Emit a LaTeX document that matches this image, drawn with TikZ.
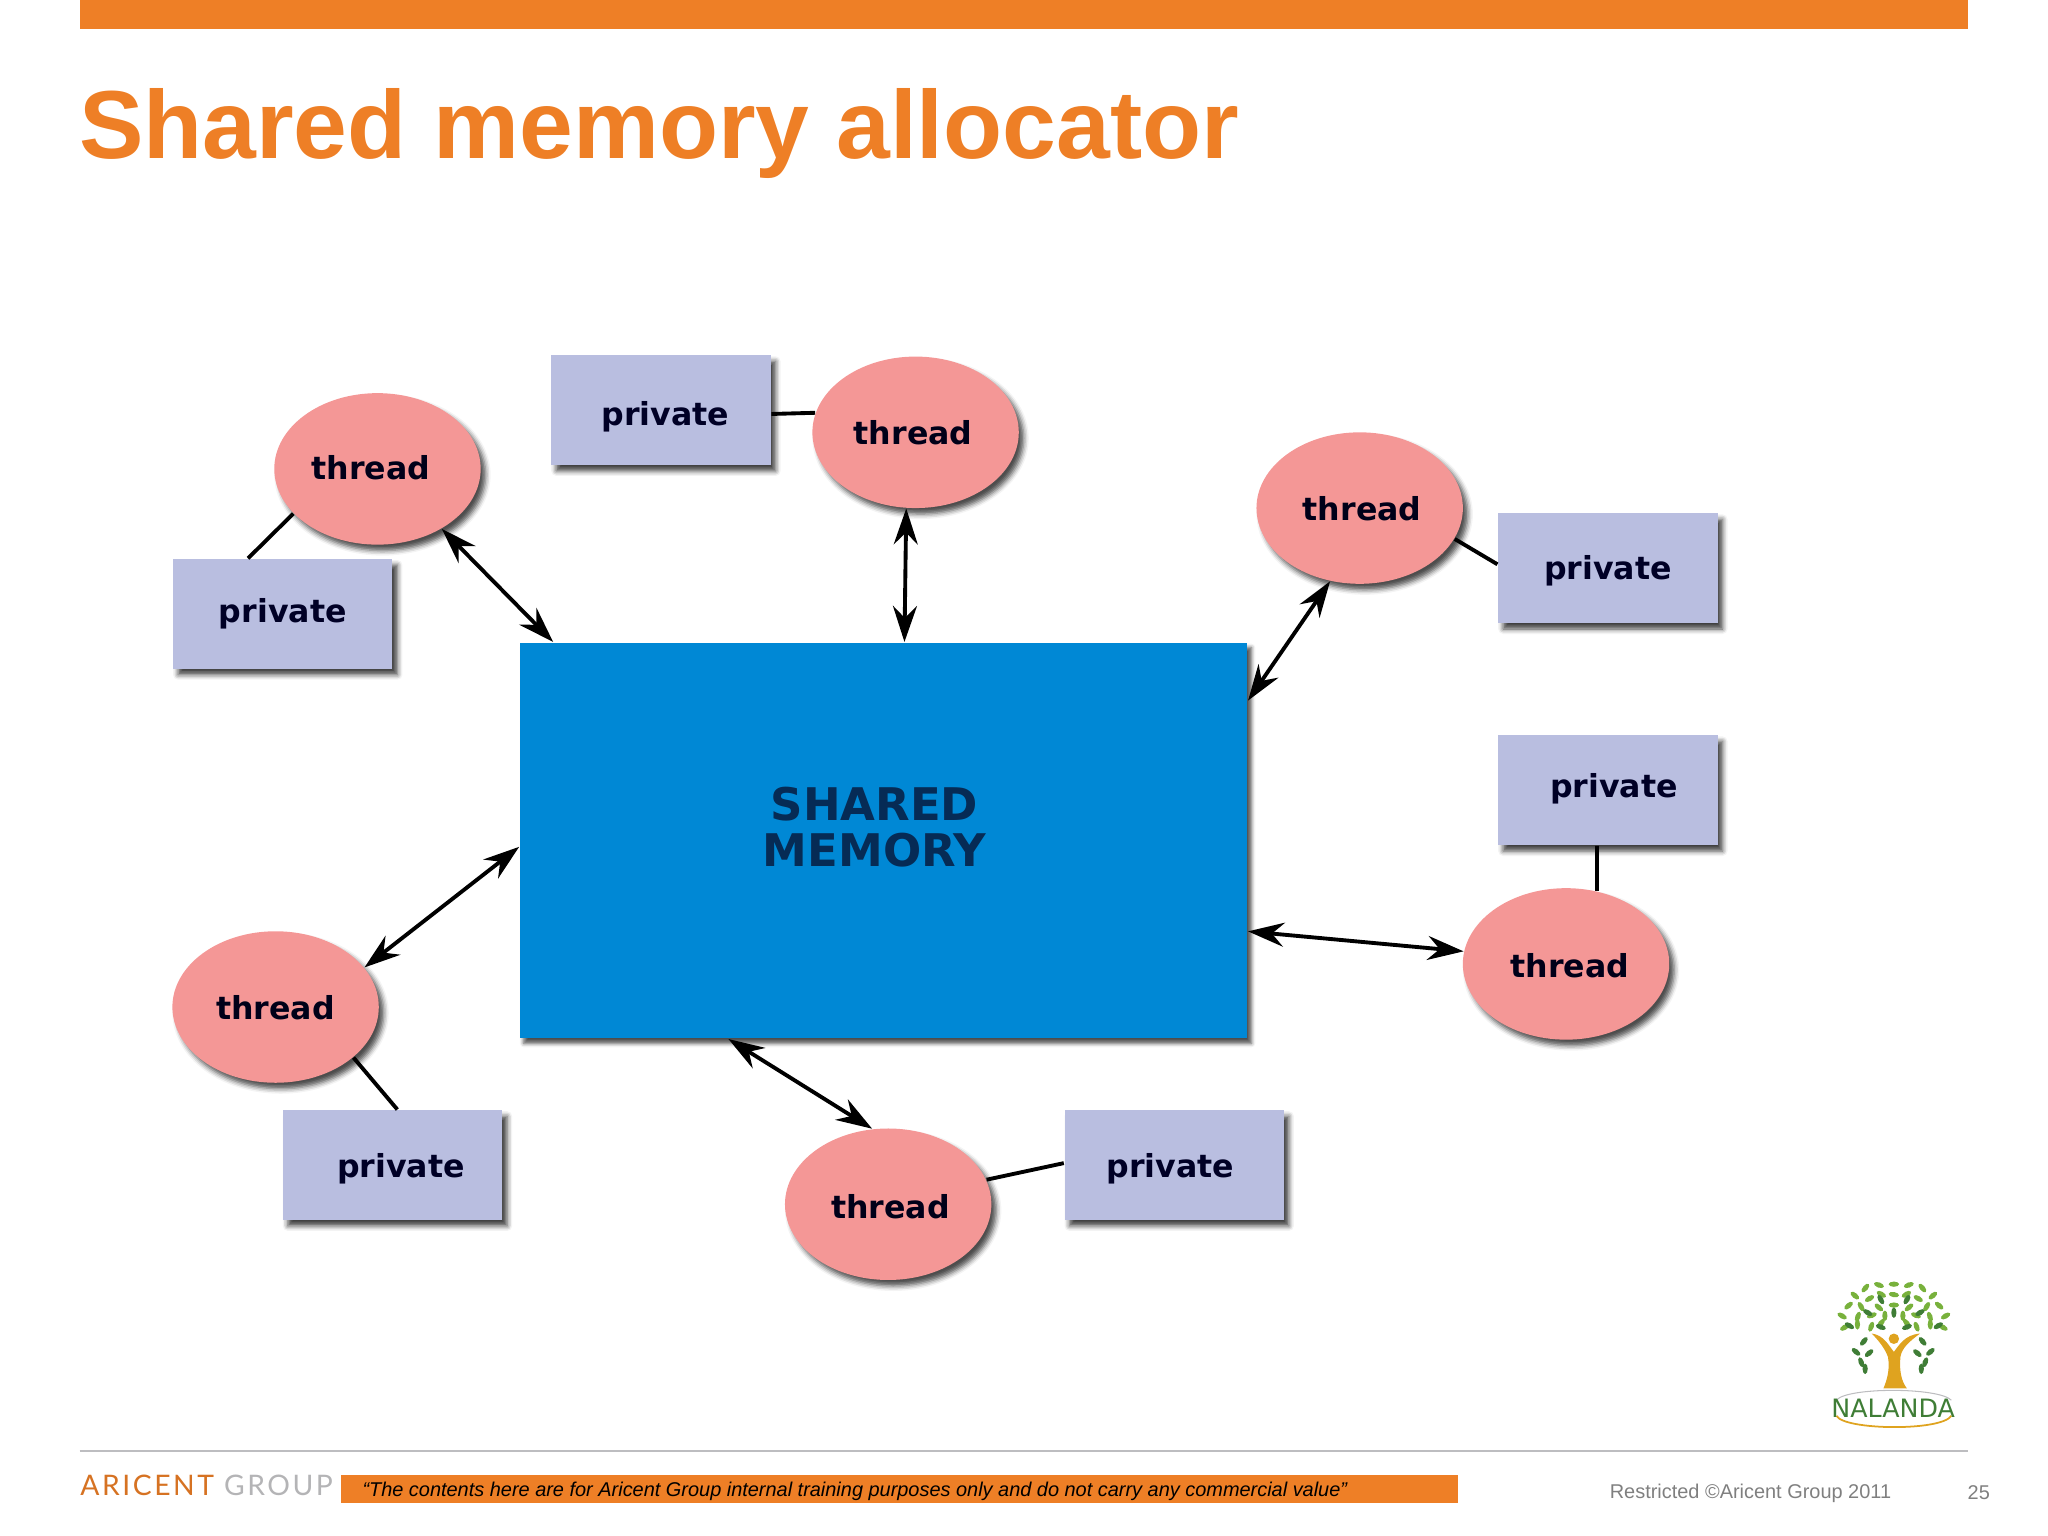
\documentclass[tikz,border=0pt]{standalone}
\usepackage{fontspec}
\setmainfont{Liberation Sans}
\newfontfamily\labelfont{DejaVu Sans}
\newfontfamily\logofont[LetterSpace=9]{Lato}
\usetikzlibrary{arrows.meta,shapes.geometric,shadows.blur}
\definecolor{barOrange}{HTML}{EE7F26}
\definecolor{threadPink}{HTML}{F49796}
\definecolor{privateBlue}{HTML}{B9BEE0}
\definecolor{memoryBlue}{HTML}{0088D5}
\definecolor{memoryText}{HTML}{062B55}
\definecolor{footGray}{HTML}{7F7F7F}
\definecolor{logoGray}{HTML}{B4B4B6}
\definecolor{ruleGray}{HTML}{BDBDC0}
\definecolor{leafGreen}{HTML}{78B13C}
\definecolor{leafDark}{HTML}{3F7D36}
\definecolor{trunkGold}{HTML}{DFA31F}
\newcommand{\nudged}[3]{\raisebox{#2}[\height][\depth]{\kern#1\relax #3\kern-#1\relax}}

\begin{document}
\begin{tikzpicture}[x=0.013061cm,y=-0.013061cm,%%
  threadStyle/.style={ellipse,fill=threadPink,minimum width=2.064cm,minimum height=1.515cm,inner sep=0pt,%%
    font=\labelfont\bfseries\fontsize{9}{11}\selectfont,text=black!90!blue,%%
    blur shadow={shadow xshift=0.05cm,shadow yshift=-0.06cm,shadow blur radius=0.05cm,shadow opacity=70}},%%
  privateStyle/.style={rectangle,fill=privateBlue,minimum width=2.194cm,minimum height=1.097cm,inner sep=0pt,%%
    font=\labelfont\bfseries\fontsize{9}{11}\selectfont,text=black!85!blue,%%
    blur shadow={shadow xshift=0.05cm,shadow yshift=-0.06cm,shadow blur radius=0.05cm,shadow opacity=75}},%%
  memoryStyle/.style={rectangle,fill=memoryBlue,minimum width=7.275cm,minimum height=3.957cm,inner sep=0pt,align=center,%%
    font=\labelfont\bfseries\fontsize{12.8}{13}\selectfont,text=memoryText,%%
    blur shadow={shadow xshift=0.04cm,shadow yshift=-0.05cm,shadow blur radius=0.04cm,shadow opacity=70}},%%
  arrowStyle/.style={{Stealth[length=0.36cm,width=0.24cm,inset=0.12cm]}-{Stealth[length=0.36cm,width=0.24cm,inset=0.12cm]},line width=1.1pt},%%
  lineStyle/.style={-,line width=1.1pt},%%
  footStyle/.style={anchor=west,inner sep=0pt,text=footGray,font=\fontsize{5.67}{7}\selectfont}%%
]
\useasboundingbox (0,0) rectangle (1568,1176);
%%
%% Draw the title bar and the title.
\fill[barOrange] (61,0) rectangle (1507,22);
\node[anchor=west,inner sep=0pt,text=barOrange,font=\bfseries\fontsize{27.5}{30}\selectfont] (title) at (60,102) {Shared memory allocator};
%%
%% Draw the shared block.
\node[memoryStyle] (memory) at (676.5,643.5) {SHARED\hspace*{5.2pt}\\MEMORY\hspace*{5.2pt}\rule[-7.6pt]{0pt}{0pt}};
%%
%% Draw the threads.
\node[threadStyle] (threadA) at (289,359) {\nudged{-1.9pt}{0.4pt}{thread}};
\node[threadStyle] (threadB) at (701,331) {\nudged{-0.7pt}{0pt}{thread}};
\node[threadStyle] (threadC) at (1041,389) {\nudged{0.7pt}{-0.3pt}{thread}};
\node[threadStyle] (threadD) at (1199,738) {\nudged{1.1pt}{-0.4pt}{thread}};
\node[threadStyle] (threadE) at (211,771) {\nudged{0pt}{-0.1pt}{thread}};
\node[threadStyle] (threadF) at (680,922) {\nudged{0.7pt}{-0.7pt}{thread}};
%%
%% Draw the private boxes.
\node[privateStyle] (privateA) at (216.5,470) {\nudged{0pt}{0pt}{private}};
\node[privateStyle] (privateB) at (506,314) {\nudged{1.3pt}{-1.9pt}{private}};
\node[privateStyle] (privateC) at (1231,435) {\nudged{0pt}{-0.7pt}{private}};
\node[privateStyle] (privateD) at (1231,605) {\nudged{1.7pt}{0.4pt}{private}};
\node[privateStyle] (privateE) at (300.5,892) {\nudged{2.4pt}{-1.1pt}{private}};
\node[privateStyle] (privateF) at (899,892) {\nudged{-1.1pt}{-1.1pt}{private}};
%%
%% Connect the threads to the shared block.
\draw[arrowStyle] (threadA.-43.9) -- (memory.149);
\draw[arrowStyle] (threadB.-97.7) -- (memory.84.4);
\draw[arrowStyle] (threadC.-112.5) -- (memory.21.4);
\draw[arrowStyle] (threadD.173) -- (memory.-14.9);
\draw[arrowStyle] (threadE.24.9) -- (memory.181.9);
\draw[arrowStyle] (threadF.102) -- (memory.-128);
%%
%% Connect the threads to their private boxes.
\draw[lineStyle] (threadA.208.4) -- (privateA.122.6);
\draw[lineStyle] (threadB.169.6) -- (privateB.-2.5);
\draw[lineStyle] (threadC.-18.4) -- (privateC.178);
\draw[lineStyle] (threadD.67.7) -- (privateD.-101.8);
\draw[lineStyle] (threadE.-33) -- (privateE.85.3);
\draw[lineStyle] (threadF.14.2) -- (privateF.179.3);
%%
%% Draw the tree of the logo.
\foreach \ang/\rad/\tilt in {-8/38/60,8/40/-60,24/38/50,40/39/-50,56/39/40,72/37/-70,90/36/90,108/37/70,124/39/-40,140/39/50,156/38/-50,172/40/60,188/38/-60,%%
  10/28/20,30/29/-30,50/29/60,70/28/-60,90/26/80,110/28/60,130/29/-60,150/29/30,170/28/-20,%%
  20/18/70,50/18/-50,90/16/90,130/18/50,160/18/-70,%%
  -5/28/0,185/28/0,-15/18/20,195/18/-20,-8/10/40,188/10/-40,40/9/0,140/9/0}{
  \pgfmathsetmacro{\leafx}{1450+\rad*cos(\ang)}
  \pgfmathsetmacro{\leafy}{1012-0.8*\rad*sin(\ang)}
  \fill[leafGreen,rotate around={\tilt:(\leafx,\leafy)}] (\leafx,\leafy) ellipse (2 and 4);
}
\foreach \leafx/\leafy/\tilt in {1421/1035/50,1427/1027/-40,1425/1043/20,1431/1036/-50,1428/1048/0,1478/1035/-50,1472/1027/40,1474/1043/-20,1468/1036/50,1471/1048/0,%%
  1440/995/30,1460/995/-30,1430/1005/60,1470/1005/-60,1450/1005/0,1416/1015/60,1484/1015/-60,1440/1016/70,1460/1016/-70}{
  \fill[leafDark,rotate around={\tilt:(\leafx,\leafy)}] (\leafx,\leafy) ellipse (2 and 4);
}
\fill[trunkGold] (1433,1021) .. controls (1442,1022) and (1446,1030) .. (1450,1035) .. controls (1454,1030) and (1458,1022) .. (1470,1021) .. controls (1462,1027) and (1456,1032) .. (1455,1039) .. controls (1454,1050) and (1456,1058) .. (1460,1063) -- (1442,1063) .. controls (1445,1056) and (1447,1048) .. (1445.5,1039) .. controls (1443,1032) and (1438,1026) .. (1433,1021) -- cycle;
\fill[trunkGold] (1450,1025) circle (4);
\draw[trunkGold,line width=0.5pt] (1406,1084) .. controls (1412,1095) and (1486,1096) .. (1494,1084);
\draw[ruleGray,line width=0.3pt] (1406,1072) .. controls (1414,1062) and (1484,1062) .. (1494,1072);
\node[inner sep=0pt,text=leafDark,font=\labelfont\fontsize{7.2}{9}\selectfont] (nalanda) at (1449.5,1078) {NALANDA};
%%
%% Draw the footer.
\draw[ruleGray,line width=0.7pt] (61,1111) -- (1507,1111);
\node[anchor=west,inner sep=0pt,text=barOrange!90!black,font=\logofont\fontsize{8.05}{9}\selectfont] (logoLeft) at (61,1137) {ARICENT};
\node[anchor=west,inner sep=0pt,text=logoGray,font=\logofont\fontsize{8.05}{9}\selectfont] (logoRight) at (171,1137) {GROUP};
\fill[barOrange] (261,1129) rectangle (1116,1151);
\node[anchor=west,inner sep=0pt,text=black,font=\itshape\fontsize{5.67}{7}\selectfont] (notice) at (277,1141.5) {“The contents here are for Aricent Group internal training purposes only and do not carry any commercial value”};
\node[footStyle] (restricted) at (1232,1143) {Restricted ©Aricent Group 2011};
\node[footStyle] (pageNumber) at (1506,1143) {25};
\end{tikzpicture}
\end{document}
